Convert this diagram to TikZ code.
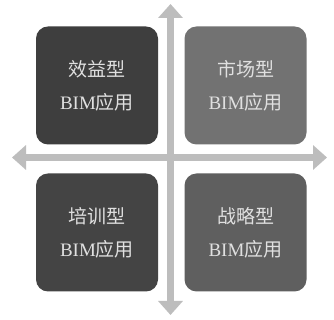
\documentclass[tikz,border=0pt]{standalone}
\usepackage{fontspec}
\setmainfont{Liberation Serif}
\newfontfamily\cjk{Noto Sans CJK SC}
\usetikzlibrary{arrows.meta}
\definecolor{axisgray}{HTML}{BDBDBD}
\definecolor{boxA}{HTML}{3E3E3E}
\definecolor{boxB}{HTML}{727272}
\definecolor{boxC}{HTML}{444444}
\definecolor{boxD}{HTML}{5F5F5F}
\definecolor{txt}{HTML}{E0E0E0}
\tikzset{
  quad/.style={rounded corners=12pt, minimum width=122pt, minimum height=118pt,
    inner sep=0pt, text=txt, align=center, font=\fontsize{19}{33}\selectfont},
  axis/.style={axisgray, line width=7pt,
    -{Triangle[width=24pt,length=14pt]}},
}
\begin{document}
\begin{tikzpicture}[x=1pt,y=1pt]
\useasboundingbox (0,0) rectangle (334,320);
\fill[white] (0,0) rectangle (334,320);
% axes
\coordinate (vtop) at (170.5,316);
\coordinate (vbot) at (170.5,5);
\coordinate (hleft) at (12,162.5);
\coordinate (hright) at (327,162.5);
\coordinate (center) at (170.5,162.5);
\draw[axis] (center) -- (vtop);
\draw[axis] (center) -- (vbot);
\draw[axis] (center) -- (hleft);
\draw[axis] (center) -- (hright);
% boxes
\node[quad, fill=boxA] (q1) at (97,234.5) {{\cjk 效益型}\\BIM{\cjk 应用}};
\node[quad, fill=boxB] (q2) at (245.5,234.5) {{\cjk 市场型}\\BIM{\cjk 应用}};
\node[quad, fill=boxC] (q3) at (97,87.5) {{\cjk 培训型}\\BIM{\cjk 应用}};
\node[quad, fill=boxD] (q4) at (245.5,87.5) {{\cjk 战略型}\\BIM{\cjk 应用}};
\end{tikzpicture}
\end{document}
